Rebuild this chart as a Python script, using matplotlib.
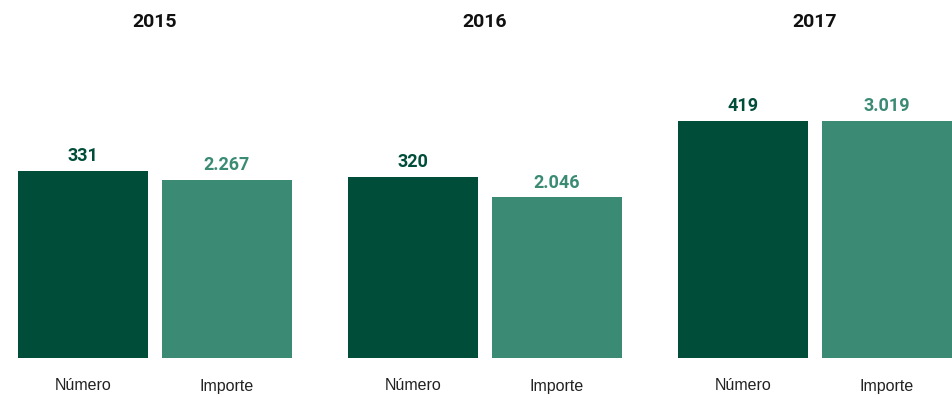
import matplotlib.pyplot as plt
import numpy as np

years = ['2015', '2016', '2017']
numero = [331, 320, 419]
importe = [2267, 2046, 3019]
numero_txt = ['331', '320', '419']
importe_txt = ['2.267', '2.046', '3.019']
cat_labels = ['Número', 'Importe']

dark = '#004d39'
light = '#3a8a74'

fig = plt.figure(figsize=(9.52, 3.98), dpi=100)
ax = fig.add_axes([0, 40 / 398, 1, 237 / 398])
ax2 = ax.twinx()

x = np.arange(len(years))
w = 130 / 330
off = 72 / 330

ax.bar(x - off, numero, width=w, color=dark)
ax2.bar(x + off, importe, width=w, color=light)

ax.set_xlim(-155 / 330, (952 - 155) / 330)
ax.set_ylim(0, max(numero))
ax2.set_ylim(0, max(importe))

for a in (ax, ax2):
    a.axis('off')

for i in range(len(years)):
    ax.annotate(numero_txt[i], (x[i] - off, numero[i]), xytext=(0, 4),
                textcoords='offset points', ha='center', va='bottom',
                color=dark, fontsize=13, fontweight='bold', family='Roboto',
                annotation_clip=False)
    ax2.annotate(importe_txt[i], (x[i] + off, importe[i]), xytext=(0, 4),
                 textcoords='offset points', ha='center', va='bottom',
                 color=light, fontsize=13, fontweight='bold', family='Roboto',
                 annotation_clip=False)
    # year title and category labels in figure coords
    fig.text((155 + 330 * i) / 952, 1 - 22 / 398, years[i], ha='center',
             va='center', fontsize=14, fontweight='bold', family='Roboto',
             color='#111111')
    fig.text((83 + 330 * i) / 952, 1 - 386 / 398, cat_labels[0], ha='center',
             va='center', fontsize=11.5, family='Liberation Sans', color='#222222')
    fig.text((227 + 330 * i) / 952, 1 - 386 / 398, cat_labels[1], ha='center',
             va='center', fontsize=11.5, family='Liberation Sans', color='#222222')

fig.savefig('out.png', dpi=100)
